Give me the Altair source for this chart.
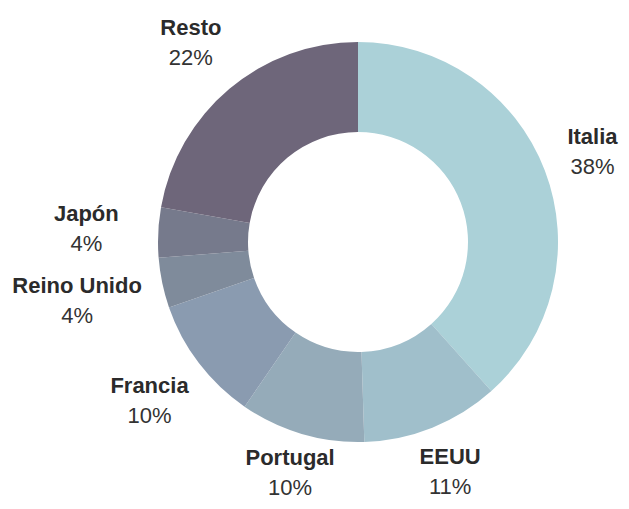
import altair as alt
import pandas as pd

countries = ["Italia", "EEUU", "Portugal", "Francia", "Reino Unido", "Japón", "Resto"]
shares = [38, 11, 10, 10, 4, 4, 22]
pct_labels = ["38%", "11%", "10%", "10%", "4%", "4%", "22%"]
colors = ["#abd1d8", "#a0bfcb", "#95abb9", "#8a9bb0", "#7f8b9b", "#767a8c", "#6e667a"]
# layout: distance of each label from the centre (px)
label_radius = [251, 248, 241, 262, 287, 272, 260]

df = pd.DataFrame({
    "pais": countries,
    "valor": shares,
    "pct": pct_labels,
    "orden": list(range(len(countries))),
    "lr": label_radius,
})

arcs = alt.Chart(df).mark_arc(outerRadius=200, innerRadius=110, stroke=None).encode(
    theta=alt.Theta("valor:Q", stack=True),
    order=alt.Order("orden:Q"),
    color=alt.Color("pais:N", scale=alt.Scale(domain=countries, range=colors), legend=None),
)

lbl = alt.Chart(df).transform_joinaggregate(
    total="sum(valor)"
).transform_window(
    cum="sum(valor)", sort=[alt.SortField("orden")], frame=[None, 0]
).transform_calculate(
    mid="(datum.cum - datum.valor / 2) / datum.total * 2 * PI"
).encode(
    theta=alt.Theta("mid:Q", scale=None),
    radius=alt.Radius("lr:Q", scale=None),
)

names = lbl.mark_text(font="Liberation Sans", fontSize=22, fontWeight="bold",
                      color="#2b2b2b", dy=-15).encode(text="pais:N")
pcts = lbl.mark_text(font="Liberation Sans", fontSize=22, color="#333333",
                     dy=15).encode(text="pct:N")

chart = (arcs + names + pcts).properties(
    width=400, height=400,
    padding={"left": 150, "top": 34, "right": 63, "bottom": 59},
    autosize=alt.AutoSizeParams(type="none"),
).configure_view(stroke=None)

chart.save("out.html", embed_options={"renderer": "svg", "actions": False})
